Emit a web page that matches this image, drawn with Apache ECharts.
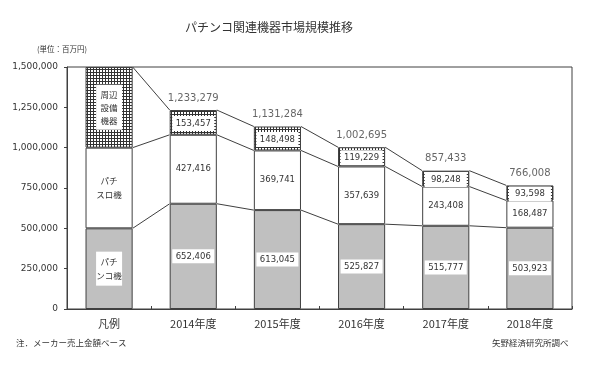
<!DOCTYPE html>
<html><head><meta charset="utf-8">
<script src="https://cdn.jsdelivr.net/npm/echarts@6/dist/echarts.min.js"></script>
<style>html,body{margin:0;padding:0;background:#fff}#c{width:600px;height:365px}</style>
</head><body><div id="c"></div>
<script>
const categories = ['凡例', '2014年度', '2015年度', '2016年度', '2017年度', '2018年度'];
const pachinko   = [500000, 652406, 613045, 525827, 515777, 503923];
const pachislo   = [500000, 427416, 369741, 357639, 243408, 168487];
const peripheral = [500000, 153457, 148498, 119229, 98248, 93598];
const totals     = [null, 1233279, 1131284, 1002695, 857433, 766008];
const legendLabels = ['パチ\nンコ機', 'パチ\nスロ機', '周辺\n設備\n機器'];
const yMin = 0, yMax = 1500000, yStep = 250000;

const NUM = 'DejaVu Sans', JP = 'Noto Sans CJK JP';
const fmt = v => Number(v).toLocaleString('en-US');

const pc = document.createElement('canvas');
pc.width = 3; pc.height = 3;
const px = pc.getContext('2d');
px.fillStyle = '#fff'; px.fillRect(0, 0, 3, 3);
px.fillStyle = '#333'; px.fillRect(0, 0, 3, 1); px.fillRect(0, 0, 1, 3);

const BW = 0.56;
function mk(arr, k, labelBase) {
  return arr.map((v, i) => {
    if (i === 0) {
      return { value: v, label: Object.assign({}, labelBase, {
        formatter: legendLabels[k], fontFamily: JP, fontSize: 8.5, lineHeight: k === 2 ? 13 : 14,
        width: 20, padding: [3, 3], align: 'center', offset: [0, 0]
      }) };
    }
    return v;
  });
}
const grayLabel = { show: true, position: 'inside', color: '#333', fontFamily: NUM, fontSize: 8.5,
  backgroundColor: '#fff', padding: [2, 2], lineHeight: 10, width: 38, align: 'center', formatter: p => fmt(p.value) };
const midLabel = { show: true, position: 'inside', color: '#333', fontFamily: NUM, fontSize: 8.5,
  formatter: p => fmt(p.value) };
const topLabel = { show: true, position: 'inside', color: '#333', fontFamily: NUM, fontSize: 8.5,
  backgroundColor: '#fff', padding: [2, 2], lineHeight: 11, width: 38, align: 'center', offset: [0, 1],
  formatter: p => fmt(p.value) };

const conn = [];
for (let i = 0; i < categories.length - 1; i++) {
  const a1 = pachinko[i], a2 = a1 + pachislo[i], a3 = a2 + peripheral[i];
  const b1 = pachinko[i + 1], b2 = b1 + pachislo[i + 1], b3 = b2 + peripheral[i + 1];
  conn.push([i, a1, a2, a3, b1, b2, b3]);
}

const chart = echarts.init(document.getElementById('c'), null, { renderer: 'canvas' });
chart.setOption({
  animation: false,
  backgroundColor: '#fff',
  title: { text: 'パチンコ関連機器市場規模推移', left: 180, top: 16,
    textStyle: { fontFamily: JP, fontSize: 12, fontWeight: 'normal', color: '#333' } },
  graphic: [
    { type: 'text', left: 37, top: 45, style: { text: '(単位：百万円)', font: '7.5px "Noto Sans CJK JP"', fill: '#333' } },
    { type: 'text', left: 16, top: 339, style: { text: '注．メーカー売上金額ベース', font: '8.5px "Noto Sans CJK JP"', fill: '#333' } },
    { type: 'text', left: 492, top: 339, style: { text: '矢野経済研究所調べ', font: '8.5px "Noto Sans CJK JP"', fill: '#333' } }
  ],
  grid: { left: 67, right: 28, top: 67, bottom: 56, show: true, borderColor: '#404040', borderWidth: 1 },
  xAxis: {
    type: 'category', data: categories, boundaryGap: true,
    axisLine: { lineStyle: { color: '#404040' } },
    axisTick: { show: true, inside: true, length: 3, lineStyle: { color: '#404040' } },
    axisLabel: { color: '#333', fontFamily: JP, fontSize: 11, margin: 9 }
  },
  yAxis: {
    type: 'value', min: yMin, max: yMax, interval: yStep,
    splitLine: { show: false },
    axisLine: { show: true, lineStyle: { color: '#404040' } },
    axisTick: { show: true, length: 3, lineStyle: { color: '#404040' } },
    axisLabel: { color: '#333', fontFamily: NUM, fontSize: 9, margin: 9, formatter: v => fmt(v) }
  },
  series: [
    { type: 'bar', stack: 's', barWidth: (BW * 100) + '%', data: mk(pachinko, 0, grayLabel),
      itemStyle: { color: '#c0c0c0', borderColor: '#404040', borderWidth: 1 }, label: grayLabel },
    { type: 'bar', stack: 's', barWidth: (BW * 100) + '%', data: mk(pachislo, 1, midLabel),
      itemStyle: { color: '#fff', borderColor: '#404040', borderWidth: 1 }, label: midLabel },
    { type: 'bar', stack: 's', barWidth: (BW * 100) + '%', data: mk(peripheral, 2, topLabel),
      itemStyle: { color: { image: pc, repeat: 'repeat' }, borderColor: '#404040', borderWidth: 1 }, label: topLabel },
    { type: 'scatter', symbolSize: 0, data: totals.map(v => v === null ? '-' : v), silent: true,
      label: { show: true, position: 'top', distance: 7, color: '#404040', fontFamily: NUM, fontSize: 10,
        formatter: p => fmt(p.value) } },
    { type: 'custom', coordinateSystem: 'cartesian2d', data: conn, silent: true, z: 1,
      encode: { x: 0, y: [1, 2, 3, 4, 5, 6] },
      renderItem: (params, api) => {
        const i = api.value(0);
        const hw = api.size([1, 0])[0] * BW / 2;
        const children = [1, 2, 3].map(k => {
          const p1 = api.coord([i, api.value(k)]);
          const p2 = api.coord([i + 1, api.value(k + 3)]);
          return { type: 'line', shape: { x1: p1[0] + hw, y1: p1[1], x2: p2[0] - hw, y2: p2[1] },
            style: { stroke: '#404040', lineWidth: 1 } };
        });
        return { type: 'group', children };
      } }
  ]
});
</script></body></html>
